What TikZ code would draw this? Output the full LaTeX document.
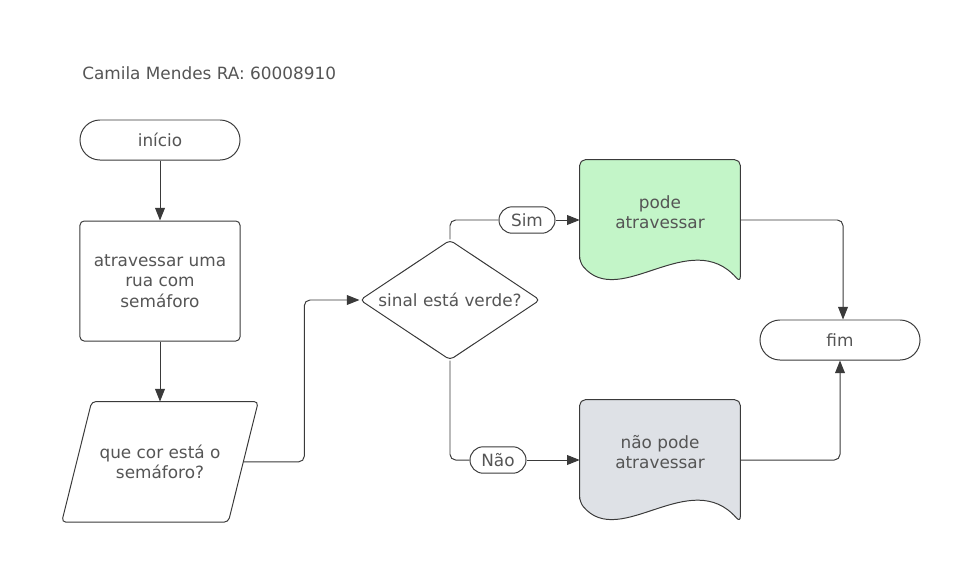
\documentclass[tikz,border=0pt]{standalone}
\usepackage{fontspec}
\setmainfont{DejaVu Sans}
\usepackage{tikz}
\usetikzlibrary{arrows.meta,positioning,calc,shapes,backgrounds}

\definecolor{linegray}{HTML}{3A3A3A}
\definecolor{textgray}{HTML}{555555}
\definecolor{okgreen}{HTML}{C3F5C8}
\definecolor{nogray}{HTML}{DEE1E6}

% wavy document outline drawn round a node
\newcommand{\docshape}[2]{%
  \draw[line width=0.7pt, draw=linegray, fill=#2, rounded corners=4pt]
    ($(#1.south west)+(0,-18)$) -- (#1.north west) -- (#1.north east)
    -- ($(#1.south east)+(0,2)$)
    .. controls ($(#1.south east)+(-50,-55)$) and ($(#1.south west)+(40,30)$) .. ($(#1.south west)+(0,-18)$) -- cycle;}

% slanted input/output outline drawn round a node
\newcommand{\ioshape}[1]{%
  \draw[line width=0.7pt, draw=linegray, rounded corners=3pt]
    ($(#1.north west)+(30,0)$) -- (#1.north east) -- ($(#1.south east)+(-30,0)$)
    -- (#1.south west) -- cycle;}

\begin{document}
\begin{tikzpicture}[
  x=0.025cm, y=-0.025cm,
  font=\fontsize{12}{14.5}\selectfont, text=textgray,
  every node/.style={text=textgray},
  terminal/.style={rectangle, draw=linegray, line width=0.7pt, rounded corners=0.5cm, minimum width=4cm, minimum height=1cm, align=center},
  box/.style={rectangle, draw=linegray, line width=0.7pt, rounded corners=3pt, minimum width=4cm, minimum height=3cm, align=center},
  inout/.style={rectangle, minimum width=4.9cm, minimum height=3cm, align=center},
  decision/.style={diamond, aspect=1.5, inner sep=1pt, draw=linegray, line width=0.7pt, rounded corners=3pt, minimum width=4.5cm, minimum height=3cm, align=center},
  doc/.style={rectangle, minimum width=4cm, minimum height=3cm, text depth=0.4cm, align=center},
  pill/.style={rectangle, draw=linegray, line width=0.7pt, rounded corners=0.33cm, minimum width=1.4cm, minimum height=0.66cm},
  line/.style={draw=linegray, line width=0.7pt, rounded corners=4pt},
  arrow/.style={line, -{Triangle[length=9pt, width=7pt]}},
]
\useasboundingbox (0,0) rectangle (960,560);

\node[anchor=west, inner sep=0pt] (titulo) at (82,73) {Camila Mendes RA: 60008910};

\node[terminal] (inicio) at (160,140) {início};
\node[box, below=1.5cm of inicio] (acao) {atravessar uma\\rua com\\semáforo};
\node[inout, below=1.5cm of acao] (entrada) {que cor está o\\semáforo?};
\coordinate (entrada-out) at ($(entrada.east)+(-15,0)$);

\node[decision] (decisao) at (450,300) {sinal está verde?};

\node[doc] (pode) at (660,220) {pode\\atravessar};
\node[doc] (naopode) at (660,460) {não pode\\atravessar};

\node[pill] (sim) at (527,220) {Sim};
\node[pill] (nao) at (498,460) {Não};

\node[terminal] (fim) at (840,340) {fim};

\begin{scope}[on background layer]
  \ioshape{entrada}
  \docshape{pode}{okgreen}
  \docshape{naopode}{nogray}
\end{scope}

\draw[arrow] (inicio) -- (acao);
\draw[arrow] (acao) -- (entrada);
\draw[arrow] (entrada-out) -- ++(61,0) |- (decisao.west);

\draw[line] (decisao.north) |- (sim.west);
\draw[arrow] (sim.east) -- (pode.west);
\draw[line] (decisao.south) |- (nao.west);
\draw[arrow] (nao.east) -- (naopode.west);

\draw[arrow] (pode.east) -| ([xshift=0.075cm]fim.north);
\draw[arrow] (naopode.east) -| (fim.south);

\end{tikzpicture}
\end{document}
